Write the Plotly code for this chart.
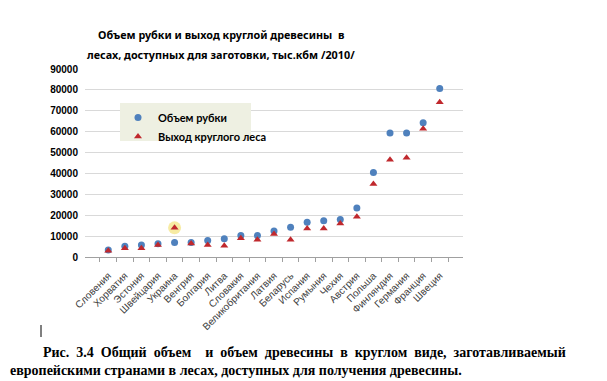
import plotly.graph_objects as go

countries = ["Словения", "Хорватия", "Эстония", "Швейцария", "Украина", "Венгрия",
             "Болгария", "Литва", "Словакия", "Великобритания", "Латвия", "Беларусь",
             "Испания", "Румыния", "Чехия", "Австрия", "Польша", "Финляндия",
             "Германия", "Франция", "Швеция"]
felling = [3300, 5100, 5800, 6300, 7000, 7000, 7900, 8700, 10300, 10300, 12400, 14200,
           16600, 17300, 18000, 23500, 40500, 59400, 59400, 64300, 80700]
roundwood = [3000, 4200, 4200, 5800, 14000, 6500, 5800, 5400, 9000, 8300, 11000, 8300,
             13700, 13700, 16000, 19300, 35000, 46500, 47500, 61400, 74100]
y_ticks = [0, 10000, 20000, 30000, 40000, 50000, 60000, 70000, 80000, 90000]
highlight_country = "Украина"

title_line1 = "Объем рубки и выход круглой древесины  в"
title_line2 = "лесах, доступных для заготовки, тыс.кбм /2010/"
S = "\u00a0\u00a0"
caption1 = ("Рис." + S + "3.4" + S + "Общий" + S + "объем" + S + S + "и" + S + "объем" + S +
            "древесины" + S + "в" + S + "круглом" + S + "виде," + S + "заготавливаемый")
caption2 = "европейскими странами в лесах, доступных для получения древесины."

OFF = 8  # page body margin
W, H = 599, 373
L, R, T, B = 77, 144, 61, 124
pw, ph = W - L - R, H - T - B

def px(x):  # page pixel -> paper x
    return (x - OFF - L) / pw

def py(y):  # page pixel -> paper y
    return (H - B - (y - OFF)) / ph

hi = countries.index(highlight_country)

fig = go.Figure()
fig.add_trace(go.Scatter(
    x=[countries[hi]], y=[roundwood[hi]], mode="markers", showlegend=False,
    marker=dict(symbol="circle", size=13, color="rgba(245,230,140,0.8)"),
    hoverinfo="skip"))
fig.add_trace(go.Scatter(
    x=countries, y=felling, mode="markers", name="<b>Объем рубки</b>",
    marker=dict(symbol="circle", size=7, color="#4f81bd")))
fig.add_trace(go.Scatter(
    x=countries, y=roundwood, mode="markers", name="<b>Выход круглого леса</b>",
    marker=dict(symbol="triangle-up", size=7, color="#c0282d")))

fig.add_shape(type="rect", xref="paper", yref="paper",
              x0=px(120), x1=px(251), y0=py(141), y1=py(103),
              fillcolor="#eef0e2", line=dict(width=0), layer="above")

fig.add_shape(type="line", xref="paper", yref="paper",
              x0=px(41), x1=px(41), y0=py(337), y1=py(325),
              line=dict(color="black", width=1))

fig.add_annotation(text="<b>" + caption1 + "</b>", xref="paper", yref="paper", x=px(41), y=py(352),
                   xanchor="left", yanchor="middle", showarrow=False,
                   font=dict(family="Liberation Serif", size=14, color="black"))
fig.add_annotation(text="<b>" + caption2 + "</b>", xref="paper", yref="paper", x=px(8), y=py(370),
                   xanchor="left", yanchor="middle", showarrow=False,
                   font=dict(family="Liberation Serif", size=14, color="black"))
for line, yy in ((title_line1, 35), (title_line2, 54)):
    fig.add_annotation(text="<b>" + line + "</b>", xref="paper", yref="paper",
                       x=px(221), y=py(yy), xanchor="center", yanchor="middle",
                       showarrow=False,
                       font=dict(family="Noto Sans", size=10.8, color="black"))

fig.update_layout(
    width=W, height=H, margin=dict(l=L, r=R, t=T, b=B, pad=0),
    paper_bgcolor="white", plot_bgcolor="white",
    showlegend=True,
    legend=dict(x=px(118), y=py(103), xanchor="left", yanchor="top",
                bgcolor="rgba(0,0,0,0)", font=dict(family="Lato", size=11, color="black"),
                itemwidth=30, tracegroupgap=0),
    xaxis=dict(type="category", categoryorder="array", categoryarray=countries,
               tickangle=-45, tickfont=dict(family="Liberation Sans", size=10, color="#404040"),
               ticks="outside", tickson="boundaries", ticklen=4, tickcolor="#a0a0a0",
               showline=True, linecolor="#a0a0a0", showgrid=False, ticklabelstandoff=8),
    yaxis=dict(range=[0, 90000], tickvals=y_ticks, ticktext=["<b>%d</b>" % v for v in y_ticks],
               tickfont=dict(family="Liberation Sans", size=10, color="black"),
               showgrid=True, gridcolor="#d9d9d9", zeroline=False,
               showline=False, ticks="", ticklabelstandoff=6),
)

fig.write_html("out.html")
